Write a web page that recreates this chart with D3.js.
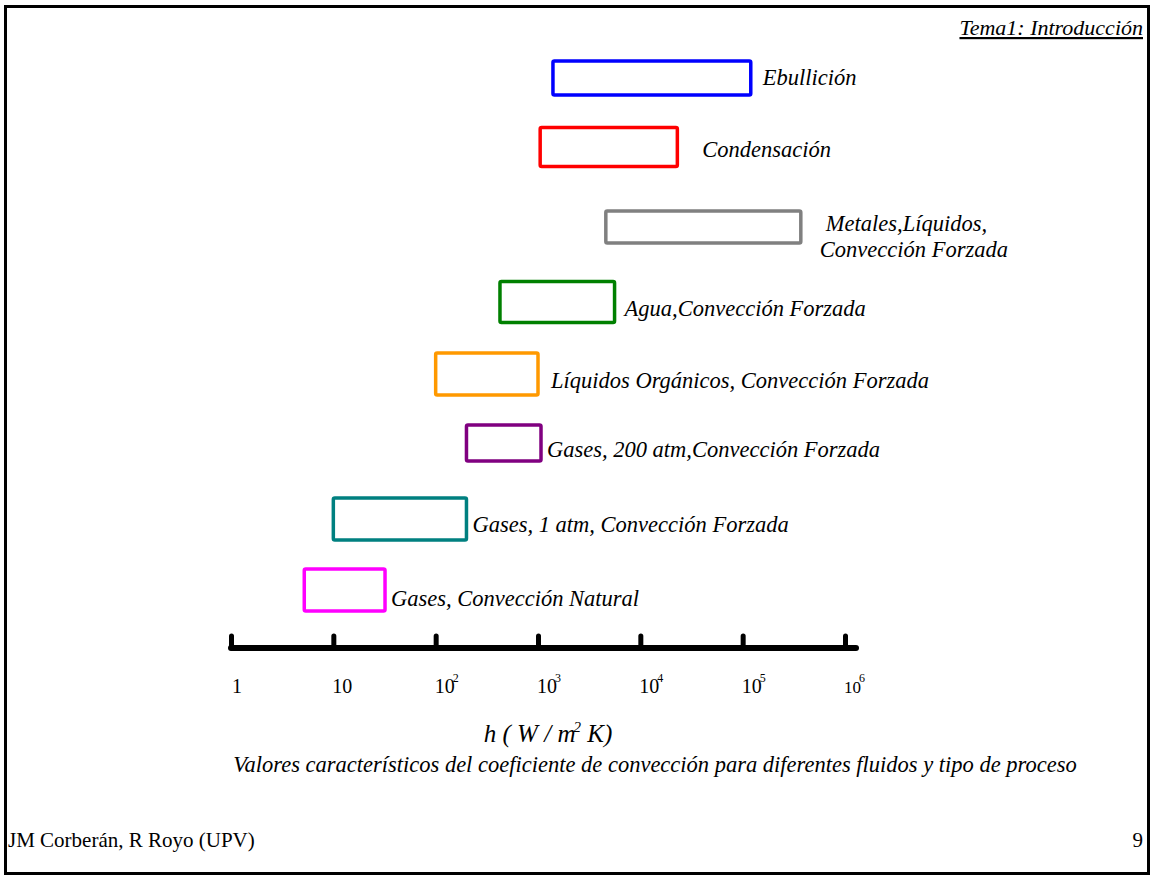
<!DOCTYPE html>
<html>
<head>
<meta charset="utf-8">
<script src="https://cdn.jsdelivr.net/npm/d3@7"></script>
<style>
  html, body { margin: 0; padding: 0; background: #fff; }
  svg { display: block; }
  text { font-family: "Liberation Serif", "Times New Roman", serif; fill: #000; }
</style>
</head>
<body>
<svg id="chart" width="1151" height="876"></svg>
<script>
// ---- data ----
const categories = [
  ["Ebullición"],
  ["Condensación"],
  ["Metales,Líquidos,", "Convección Forzada"],
  ["Agua,Convección Forzada"],
  ["Líquidos Orgánicos, Convección Forzada"],
  ["Gases, 200 atm,Convección Forzada"],
  ["Gases, 1 atm, Convección Forzada"],
  ["Gases, Convección Natural"]
];
const lowValues  = [1400, 1050, 4600, 425, 100, 200, 10, 5.2];
const highValues = [120000, 23000, 370000, 5600, 1000, 1070, 200, 32];
const colors = ["#0000ff", "#ff0000", "#808080", "#008000", "#ff9900", "#800080", "#008080", "#ff00ff"];
const tickValues = [1, 10, 100, 1000, 10000, 100000, 1000000];
const tickBase = ["1", "10", "10", "10", "10", "10", "10"];
const tickExp  = ["", "", "2", "3", "4", "5", "6"];

// ---- layout ----
const rowCenter = [78, 147, 227, 302, 374, 443, 519, 590];
const rowHeight = [34, 39, 32, 41, 42, 36, 42, 42];
const labelGap  = [12, 25, 25, 10, 13, 6, 6, 6];
const labelDy   = [7, 10, 4, 14, 14, 14, 13, 16];

const svg = d3.select("#chart");
const x = d3.scaleLog().domain([1, 1e6]).range([231, 845]);

// frame
svg.append("rect").attr("x", 5.5).attr("y", 6.5).attr("width", 1143).attr("height", 867)
  .attr("fill", "none").attr("stroke", "#000").attr("stroke-width", 3);

// header
svg.append("text").attr("x", 1143).attr("y", 35).attr("text-anchor", "end")
  .attr("font-size", 22).attr("font-style", "italic")
  .attr("text-decoration", "underline").text("Tema1: Introducción");

// boxes
const rows = svg.append("g").selectAll("g").data(categories).join("g");
rows.append("rect")
  .attr("x", (d, i) => x(lowValues[i]))
  .attr("y", (d, i) => rowCenter[i] - rowHeight[i] / 2)
  .attr("width", (d, i) => x(highValues[i]) - x(lowValues[i]))
  .attr("height", (d, i) => rowHeight[i])
  .attr("rx", 1.5)
  .attr("fill", "none")
  .attr("stroke", (d, i) => colors[i])
  .attr("stroke-width", 3.5);

rows.each(function(d, i) {
  const t = d3.select(this).append("text")
    .attr("font-size", 22.5).attr("font-style", "italic")
    .attr("x", x(highValues[i]) + labelGap[i])
    .attr("y", rowCenter[i] + labelDy[i]);
  if (d.length === 1) {
    t.text(d[0]);
  } else {
    t.append("tspan").attr("x", x(highValues[i]) + labelGap[i]).text(d[0]);
    t.append("tspan").attr("x", x(highValues[i]) + labelGap[i] - 6).attr("dy", 26).text(d[1]);
  }
});

// axis
const axisY = 648;
const axisG = svg.append("g").attr("transform", `translate(0,${axisY})`);
axisG.call(d3.axisTop(x).tickValues(tickValues).tickSize(12).tickFormat(""));
axisG.select(".domain").remove();
axisG.selectAll(".tick line").attr("stroke", "#000").attr("stroke-width", 5).attr("stroke-linecap", "round");
axisG.append("line").attr("x1", 231).attr("x2", 856).attr("y1", 0).attr("y2", 0)
  .attr("stroke", "#000").attr("stroke-width", 6).attr("stroke-linecap", "round");

// tick labels
const lbl = svg.append("g").selectAll("text").data(tickValues).join("text")
  .attr("x", d => x(d) + (d === 1 ? 1 : -1))
  .attr("y", 693)
  .attr("font-size", (d, i) => i === 6 ? 17 : 20);
lbl.append("tspan").text((d, i) => tickBase[i]);
lbl.append("tspan").attr("dy", -11).attr("dx", -2).attr("font-size", 12).text((d, i) => tickExp[i]);

// axis title
const title = svg.append("text").attr("x", 548).attr("y", 742).attr("text-anchor", "middle")
  .attr("font-size", 25).attr("font-style", "italic");
title.append("tspan").text("h ( W / m");
title.append("tspan").attr("dy", -10).attr("dx", -2).attr("font-size", 15).text("2");
title.append("tspan").attr("dy", 10).text(" K)");

// caption
svg.append("text").attr("x", 655).attr("y", 772).attr("text-anchor", "middle")
  .attr("font-size", 22.5).attr("font-style", "italic")
  .text("Valores característicos del coeficiente de convección para diferentes fluidos y tipo de proceso");

// footer
svg.append("text").attr("x", 8).attr("y", 847).attr("font-size", 21).text("JM Corberán, R Royo (UPV)");
svg.append("text").attr("x", 1143).attr("y", 847).attr("text-anchor", "end").attr("font-size", 21).text("9");
</script>
</body>
</html>
